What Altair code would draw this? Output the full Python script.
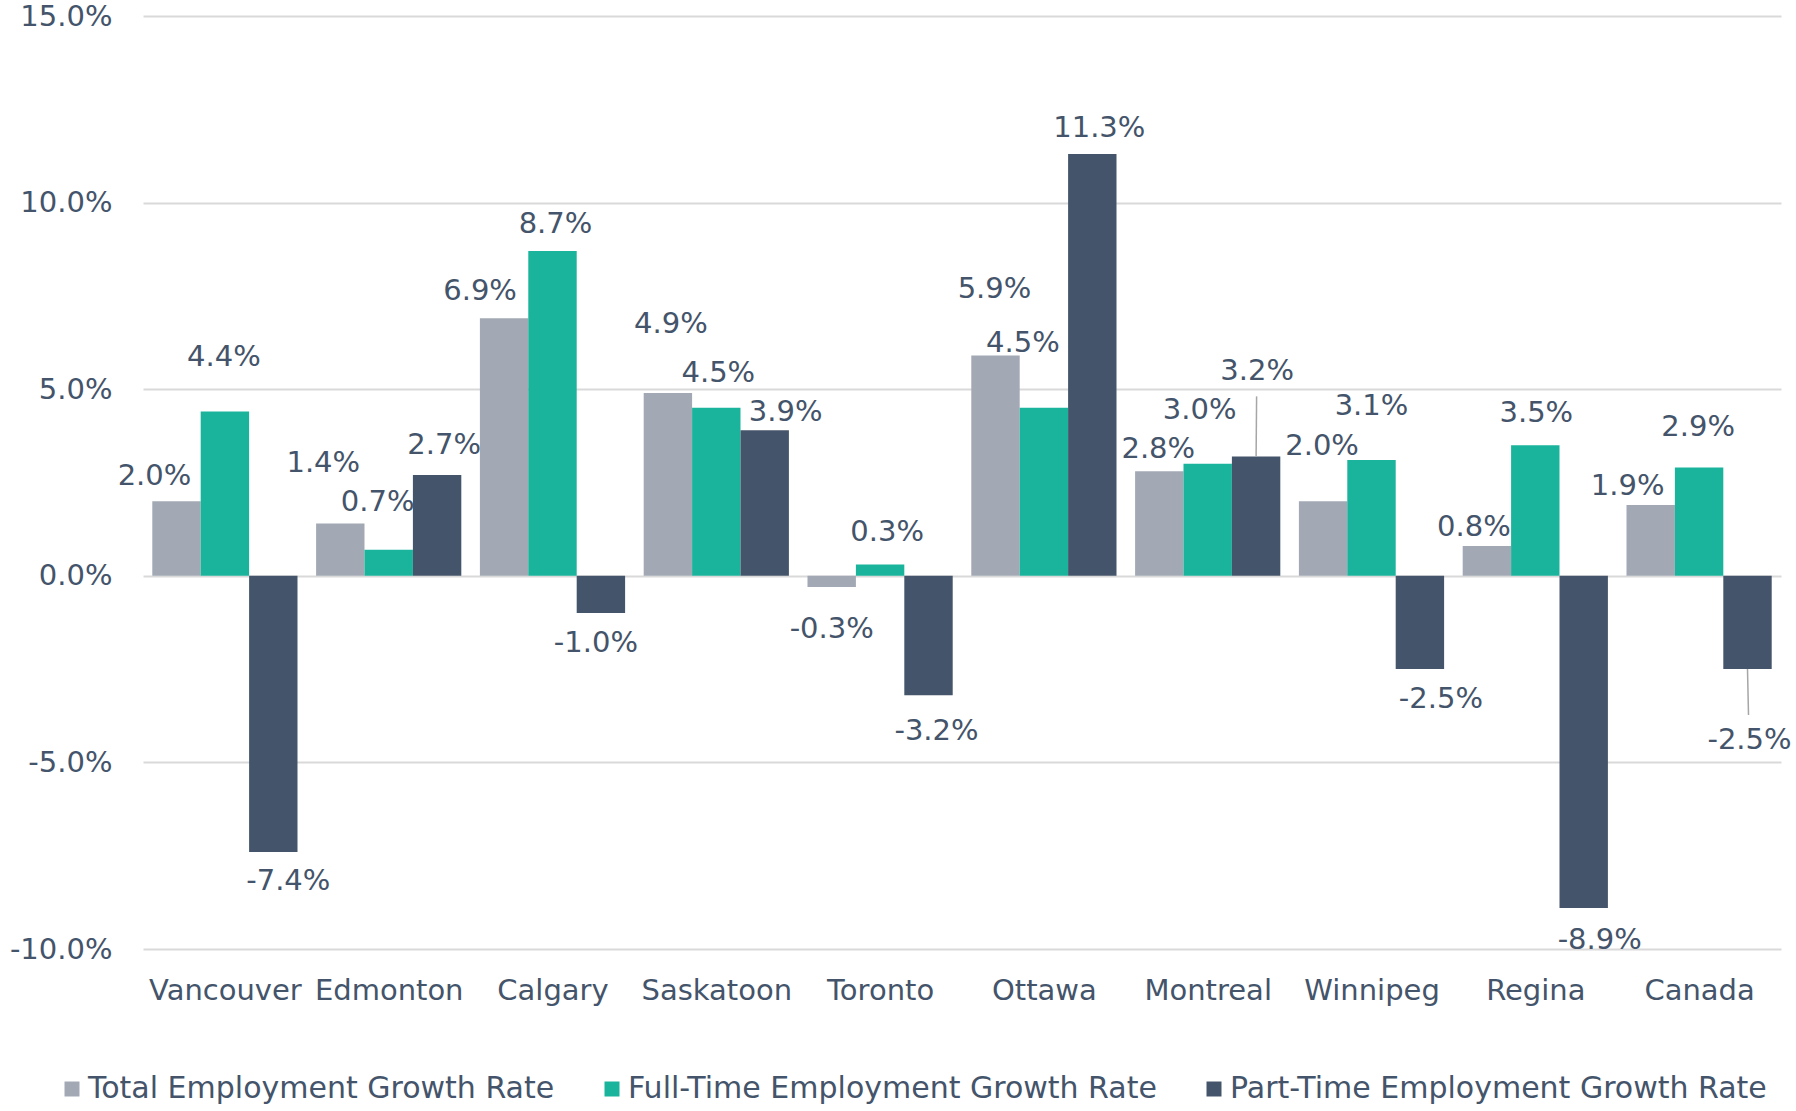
import altair as alt
import pandas as pd

# ---- data ----
cities = ["Vancouver", "Edmonton", "Calgary", "Saskatoon", "Toronto",
          "Ottawa", "Montreal", "Winnipeg", "Regina", "Canada"]
series = ["Total Employment Growth Rate",
          "Full-Time Employment Growth Rate",
          "Part-Time Employment Growth Rate"]
total_growth = [2.0, 1.4, 6.9, 4.9, -0.3, 5.9, 2.8, 2.0, 0.8, 1.9]
fulltime_growth = [4.4, 0.7, 8.7, 4.5, 0.3, 4.5, 3.0, 3.1, 3.5, 2.9]
parttime_growth = [-7.4, 2.7, -1.0, 3.9, -3.2, 11.3, 3.2, -2.5, -8.9, -2.5]
y_ticks = [-10, -5, 0, 5, 10, 15]

# ---- label layout (pixel nudges of each value label from its bar end: dx, dy-up) ----
label_nudge = {
    0: [(-22, 25), (-1, 55), (15, -29)],
    1: [(-17, 61), (-11, 48), (7, 30)],
    2: [(-24, 27), (3, 27), (-5, -30)],
    3: [(3, 69), (2, 35), (21, 18)],
    4: [(0, -42), (7, 33), (8, -36)],
    5: [(-1, 67), (-21, 65), (7, 26)],
    6: [(-1, 22), (-8, 54), (1, 85)],
    7: [(-1, 55), (0, 54), (21, -30)],
    8: [(-13, 19), (1, 32), (16, -32)],
    9: [(-23, 19), (-1, 41), (2, -71)],
}
leaders = {(6, 2), (9, 2)}

# ---- styling ----
FONT = "DejaVu Sans"
TXT = "#44546A"
colors = ["#A2A9B4", "#1AB39B", "#44546A"]
W, H = 1638, 933
Y_MIN, Y_MAX = -10, 15
PX_Y = H / (Y_MAX - Y_MIN)
PX_X = W / len(cities)
BW = 0.2955

rows = []
for ci, city in enumerate(cities):
    for si, vals in enumerate([total_growth, fulltime_growth, parttime_growth]):
        v = vals[ci]
        c = ci + 0.5 + (si - 1) * BW
        ndx, ndy = label_nudge[ci][si]
        sign = 1 if ndy > 0 else -1
        rows.append(dict(
            city=city, series=series[si], value=v,
            x0=c - BW / 2, x1=c + BW / 2, xc=c,
            lx=c + ndx / PX_X, ly=v + ndy / PX_Y,
            label=f"{v:.1f}%",
            leader=(ci, si) in leaders,
            lend=v + (ndy - sign * 25) / PX_Y,
            lendx=c + ndx * 0.5 / PX_X,
        ))
df = pd.DataFrame(rows)

label_expr = "[" + ",".join(f"'{c}'" for c in cities) + "][round(datum.value - 0.5)]"

xscale = alt.Scale(domain=[0, len(cities)], nice=False, zero=False)
yscale = alt.Scale(domain=[Y_MIN, Y_MAX], nice=False)

x_axis = alt.Axis(values=[i + 0.5 for i in range(len(cities))], labelExpr=label_expr,
                  grid=False, ticks=False, domain=False, labelOverlap=False,
                  labelFlush=False, labelFont=FONT, labelFontSize=29,
                  labelColor=TXT, labelPadding=27, title=None)
y_axis = alt.Axis(values=y_ticks,
                  labelExpr="(datum.value < 0 ? '-' : '') + format(abs(datum.value), '.1f') + '%'",
                  grid=True, gridColor="#D9D9D9", gridWidth=2, domain=False,
                  ticks=False, labelFont=FONT, labelFontSize=29, labelColor=TXT,
                  labelPadding=31, title=None)

base = alt.Chart(df)

bars = base.mark_bar().encode(
    x=alt.X("x0:Q", scale=xscale, axis=x_axis),
    x2="x1:Q",
    y=alt.Y("value:Q", scale=yscale, axis=y_axis),
    y2=alt.datum(0),
    color=alt.Color("series:N", sort=series,
                    scale=alt.Scale(domain=series, range=colors),
                    legend=alt.Legend(orient="none", legendX=-86, legendY=1058,
                                      direction="horizontal", title=None,
                                      symbolType="square", symbolSize=225,
                                      symbolStrokeWidth=0,
                                      labelFont=FONT, labelFontSize=30,
                                      labelColor=TXT, columnPadding=42,
                                      labelOffset=1, labelLimit=0)),
)

leader_lines = base.transform_filter("datum.leader").mark_rule(
    color="#A6A6A6", strokeWidth=1.5).encode(
    x=alt.X("xc:Q", scale=xscale), x2="lendx:Q",
    y=alt.Y("value:Q", scale=yscale), y2="lend:Q",
)

labels = base.mark_text(font=FONT, fontSize=29, color=TXT,
                        align="center", baseline="middle").encode(
    x=alt.X("lx:Q", scale=xscale),
    y=alt.Y("ly:Q", scale=yscale),
    text="label:N",
)

chart = alt.layer(bars, leader_lines, labels).properties(
    width=W, height=H, background="white",
    padding={"left": 9, "top": 2, "right": 0, "bottom": 0},
).configure_view(stroke=None)

chart.save("out.html", embed_options={"renderer": "svg", "actions": False})
